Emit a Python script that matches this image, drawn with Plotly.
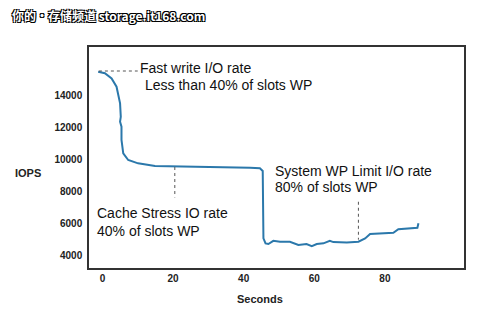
import plotly.graph_objects as go

# Data
seconds = [-1.2, 0.7, 2.6, 4.0, 5.0, 5.2, 5.0, 5.4, 5.4, 5.9, 7.3, 10.1, 14.9, 25.0, 39.0,
           41.8, 44.6, 45.4, 45.6, 46.2, 47.0, 48.4, 50.3, 53.1, 55.5, 57.8, 59.3, 60.7,
           62.6, 64.4, 65.4, 69.2, 72.5, 74.4, 75.8, 78.6, 82.4, 83.8, 88.5, 89.2, 89.5]
iops = [15450, 15360, 15040, 14520, 13480, 12640, 12330, 12020, 11190, 10360, 9940, 9730,
        9560, 9520, 9500, 9450, 9420, 9250, 5040, 4730, 4690, 4890, 4830, 4830, 4630, 4690,
        4560, 4690, 4730, 4890, 4810, 4790, 4830, 5040, 5310, 5360, 5390, 5610, 5670, 5700, 5980]

x_ticks = [0, 20, 40, 60, 80]
y_ticks = [4000, 6000, 8000, 10000, 12000, 14000]
y_tick_labels = ["4000", "6000", "8000", "10000", "12000", "14000"]

# Callout guide lines (x0, y0, x1, y1) in data units
guides = [(-1.0, 15500, 10.0, 15500),
          (20.5, 9500, 20.5, 7600),
          (72.5, 7330, 72.5, 4960)]

# Callout texts: (x, y, text)
callouts = [(10.1, 15670, "Fast write I/O rate"),
            (11.4, 14625, "Less than 40% of slots WP"),
            (-2.1, 6625, "Cache Stress IO rate"),
            (-2.1, 5520, "40% of slots WP"),
            (48.2, 9270, "System WP Limit I/O rate"),
            (48.2, 8270, "80% of slots WP")]

fig = go.Figure()
fig.add_trace(go.Scatter(x=seconds, y=iops, mode="lines",
                         line=dict(color="#2b78ab", width=2), showlegend=False,
                         hoverinfo="skip"))

for x0, y0, x1, y1 in guides:
    fig.add_shape(type="line", x0=x0, y0=y0, x1=x1, y1=y1, xref="x", yref="y",
                  line=dict(color="#555555", width=1, dash="dot"))

annotations = []
for x, y, t in callouts:
    annotations.append(dict(x=x, y=y, xref="x", yref="y", text=t, showarrow=False,
                            xanchor="left", yanchor="middle",
                            font=dict(family="Liberation Sans, Arial", size=14, color="#111111")))

annotations.append(dict(x=28, y=173, xref="paper", yref="paper", text="<b>IOPS</b>",
                        showarrow=False, xanchor="center", yanchor="middle",
                        font=dict(family="Liberation Sans, Arial", size=11, color="#222222")))
annotations.append(dict(x=260, y=299, xref="paper", yref="paper", text="<b>Seconds</b>",
                        showarrow=False, xanchor="center", yanchor="middle",
                        font=dict(family="Liberation Sans, Arial", size=11, color="#222222")))
annotations.append(dict(x=10, y=15, xref="paper", yref="paper",
                        text="<b>你的·存储频道 storage.it168.com</b>",
                        showarrow=False, xanchor="left", yanchor="middle",
                        font=dict(family="Noto Sans CJK SC", size=12, color="white",
                                  shadow="-1px -1px 0 #000, 1px -1px 0 #000, -1px 1px 0 #000, 1px 1px 0 #000")))

# convert pixel positions of the last three annotations to paper coords
L, R, T, B = 89, 36, 47, 55
W, H = 500, 323
pw, ph = W - L - R, H - T - B
for a in annotations[-3:]:
    a["x"] = (a["x"] - L) / pw
    a["y"] = ((H - B) - a["y"]) / ph

fig.update_layout(
    width=W, height=H,
    margin=dict(l=L, r=R, t=T, b=B),
    paper_bgcolor="white", plot_bgcolor="white",
    annotations=annotations,
    xaxis=dict(range=[-3.8, 102.4], tickvals=x_ticks, showgrid=False, zeroline=False,
               showline=True, mirror=True, linecolor="#333333", linewidth=1.5, ticks="",
               tickfont=dict(family="Liberation Sans, Arial", size=10, color="#222222", weight="bold")),
    yaxis=dict(range=[3190, 17000], tickvals=y_ticks, ticktext=y_tick_labels,
               showgrid=False, zeroline=False,
               showline=True, mirror=True, linecolor="#333333", linewidth=1.5, ticks="",
               ticklabelstandoff=3,
               tickfont=dict(family="Liberation Sans, Arial", size=10, color="#222222", weight="bold")),
)

fig.write_html("out.html")
